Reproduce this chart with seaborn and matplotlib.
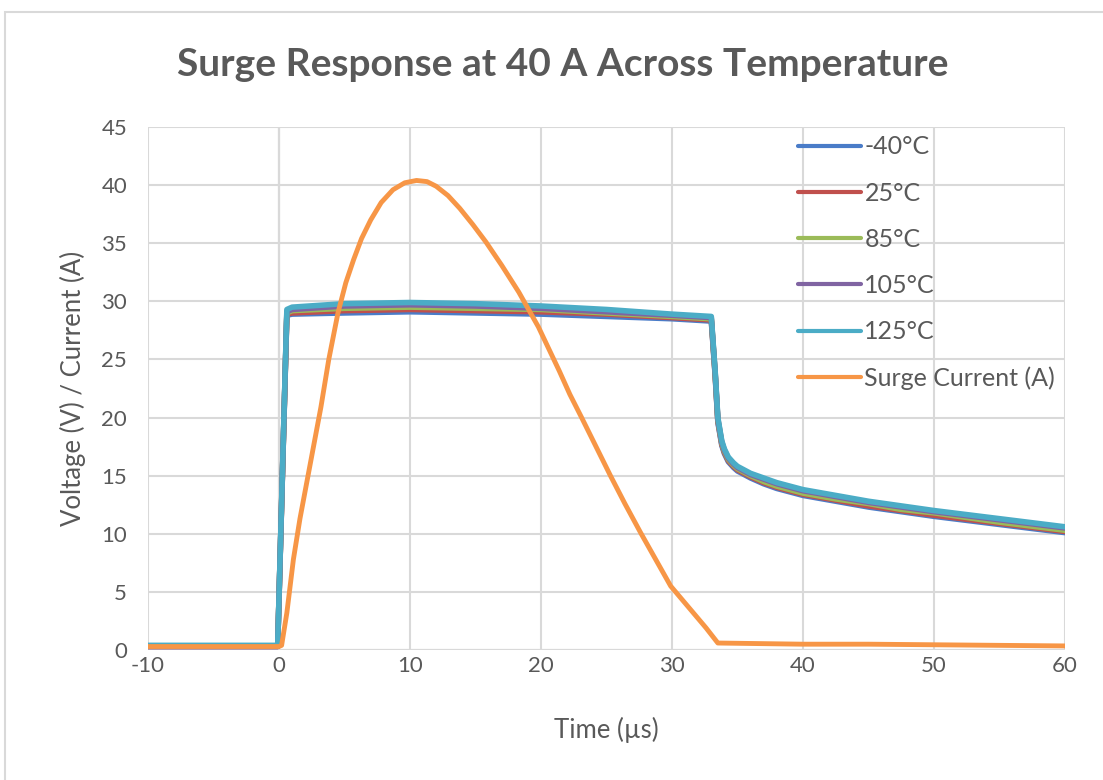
import numpy as np
import pandas as pd
import matplotlib.pyplot as plt
import seaborn as sns
from matplotlib.patches import Rectangle

sns.set_style('white')
plt.rcParams['font.family'] = ['Lato', 'DejaVu Sans']
plt.rcParams['axes.unicode_minus'] = False

# Time knots for the voltage traces (µs)
t_volt = [-10, -0.1, 0.6, 1, 5, 10, 15, 20, 25, 30, 33.0, 33.3, 33.5, 33.8, 34.0, 34.3, 34.7, 35, 36, 37, 38,
          40, 42.5, 45, 47.5, 50, 55, 60]

# Clamp voltage per temperature (V)
v_m40 = [0.3, 0.3, 28.8, 28.9, 29.0, 29.1, 29.0, 28.9, 28.7, 28.5, 28.3, 23.5, 19.6, 17.6, 16.9, 16.2, 15.7, 15.4, 14.8, 14.3, 13.9,
         13.3, 12.8, 12.3, 11.9, 11.5, 10.8, 10.1]
v_25 = [0.3, 0.3, 28.9, 29.0, 29.2, 29.3, 29.2, 29.1, 28.9, 28.6, 28.4, 23.6, 19.7, 17.7, 17.0, 16.3, 15.8, 15.5, 14.9, 14.4, 14.0,
        13.4, 12.9, 12.4, 12.0, 11.6, 10.9, 10.2]
v_85 = [0.35, 0.35, 29.0, 29.2, 29.4, 29.5, 29.4, 29.3, 29.0, 28.7, 28.5, 23.7, 19.8, 17.8, 17.1, 16.4, 15.9, 15.6, 15.0, 14.5, 14.1,
        13.5, 13.0, 12.6, 12.1, 11.8, 11.0, 10.3]
v_105 = [0.35, 0.35, 29.1, 29.3, 29.6, 29.7, 29.6, 29.4, 29.1, 28.8, 28.6, 23.8, 19.9, 17.9, 17.2, 16.5, 16.0, 15.7, 15.1, 14.7, 14.3,
         13.7, 13.2, 12.7, 12.3, 11.9, 11.2, 10.5]
v_125 = [0.4, 0.4, 29.3, 29.5, 29.8, 29.9, 29.8, 29.6, 29.3, 28.9, 28.7, 23.9, 20.0, 18.0, 17.3, 16.6, 16.1, 15.8, 15.2, 14.8, 14.4,
         13.8, 13.3, 12.8, 12.4, 12.0, 11.3, 10.6]

# Surge current trace (A)
t_curr = [-10, 0, 0.2, 0.6, 1.1, 1.6, 2.2, 2.7, 3.2, 3.8, 4.5, 5.1, 5.7, 6.3, 7.0, 7.8, 8.7, 9.6, 10.5, 11.3,
          12.0, 12.9, 13.8, 14.8, 15.8, 17.0, 18.3, 19.8, 21.4, 22.2, 23.1, 24.2, 25.3, 26.4, 27.6, 28.8,
          29.9, 30.8, 31.7, 32.6, 33.5, 40, 45, 50, 55, 60]
i_surge = [0.3, 0.3, 0.4, 3.2, 7.8, 11.3, 14.9, 17.9, 20.9, 25.0, 29.0, 31.6, 33.6, 35.4, 37.0, 38.5, 39.6, 40.2, 40.4, 40.3,
           39.9, 39.1, 38.0, 36.6, 35.1, 33.1, 30.8, 27.8, 24.0, 22.0, 20.0, 17.5, 15.0, 12.6, 10.1, 7.7,
           5.5, 4.3, 3.1, 1.9, 0.6, 0.5, 0.5, 0.45, 0.4, 0.35]

series_names = ['-40°C', '25°C', '85°C', '105°C', '125°C', 'Surge Current (A)']
colors = ['#4A7CC8', '#C0504D', '#9BBB59', '#8064A2', '#4BACC6', '#F79646']

frames = []
for name, vals in zip(series_names[:5], [v_m40, v_25, v_85, v_105, v_125]):
    frames.append(pd.DataFrame({'t': t_volt, 'y': vals, 'series': name}))
frames.append(pd.DataFrame({'t': t_curr, 'y': i_surge, 'series': series_names[5]}))
df = pd.concat(frames, ignore_index=True)

fig = plt.figure(figsize=(11.03, 7.8), dpi=100)
ax = fig.add_axes([148 / 1103, 1 - 650 / 780, (1065 - 148) / 1103, (650 - 127) / 780])

# light outer border like the Excel chart area
fig.patches.append(Rectangle((5 / 1103, -0.05), 1.1, (780 - 12) / 780 + 0.05, transform=fig.transFigure,
                             fill=False, edgecolor='#d9d9d9', linewidth=1.5))

sns.lineplot(data=df, x='t', y='y', hue='series', hue_order=series_names,
             palette=dict(zip(series_names, colors)), sort=False, estimator=None,
             linewidth=4, ax=ax)
# surge current is a bit thinner than the clamp voltage bundle
ax.lines[5].set_linewidth(3.5)

ax.set_xlim(-10, 60)
ax.set_ylim(0, 45)
ax.set_xticks(range(-10, 61, 10))
ax.set_yticks(range(0, 46, 5))
ax.grid(True, color='#d9d9d9', linewidth=1.5)
ax.set_axisbelow(True)
for s in ax.spines.values():
    s.set_visible(False)
ax.axvline(0, color='#a6a6a6', linewidth=1.5, zorder=0.5)
ax.axhline(0, color='#bfbfbf', linewidth=1.5, zorder=0.5)
ax.tick_params(axis='both', length=0, labelsize=16, labelcolor='#595959')
ax.tick_params(axis='x', pad=4)
ax.tick_params(axis='y', pad=15)

ax.set_xlabel('Time (µs)', fontsize=18.5, color='#595959', labelpad=30)
ax.set_ylabel('Voltage (V) / Current (A)', fontsize=18.5, color='#595959', labelpad=11)

fig.text(0.51, 1 - 65 / 780, 'Surge Response at 40 A Across Temperature', ha='center', va='center',
         fontsize=28, fontweight='bold', color='#595959')

leg = ax.legend(loc='upper left', bbox_to_anchor=(0.709, 0.984), frameon=False, fontsize=18,
                handlelength=2.5, handletextpad=0.15, labelspacing=0.93, borderaxespad=0, borderpad=0)
for txt in leg.get_texts():
    txt.set_color('#595959')
for line in leg.get_lines():
    line.set_linewidth(3)

fig.savefig('out.png', dpi=100, facecolor='white')
